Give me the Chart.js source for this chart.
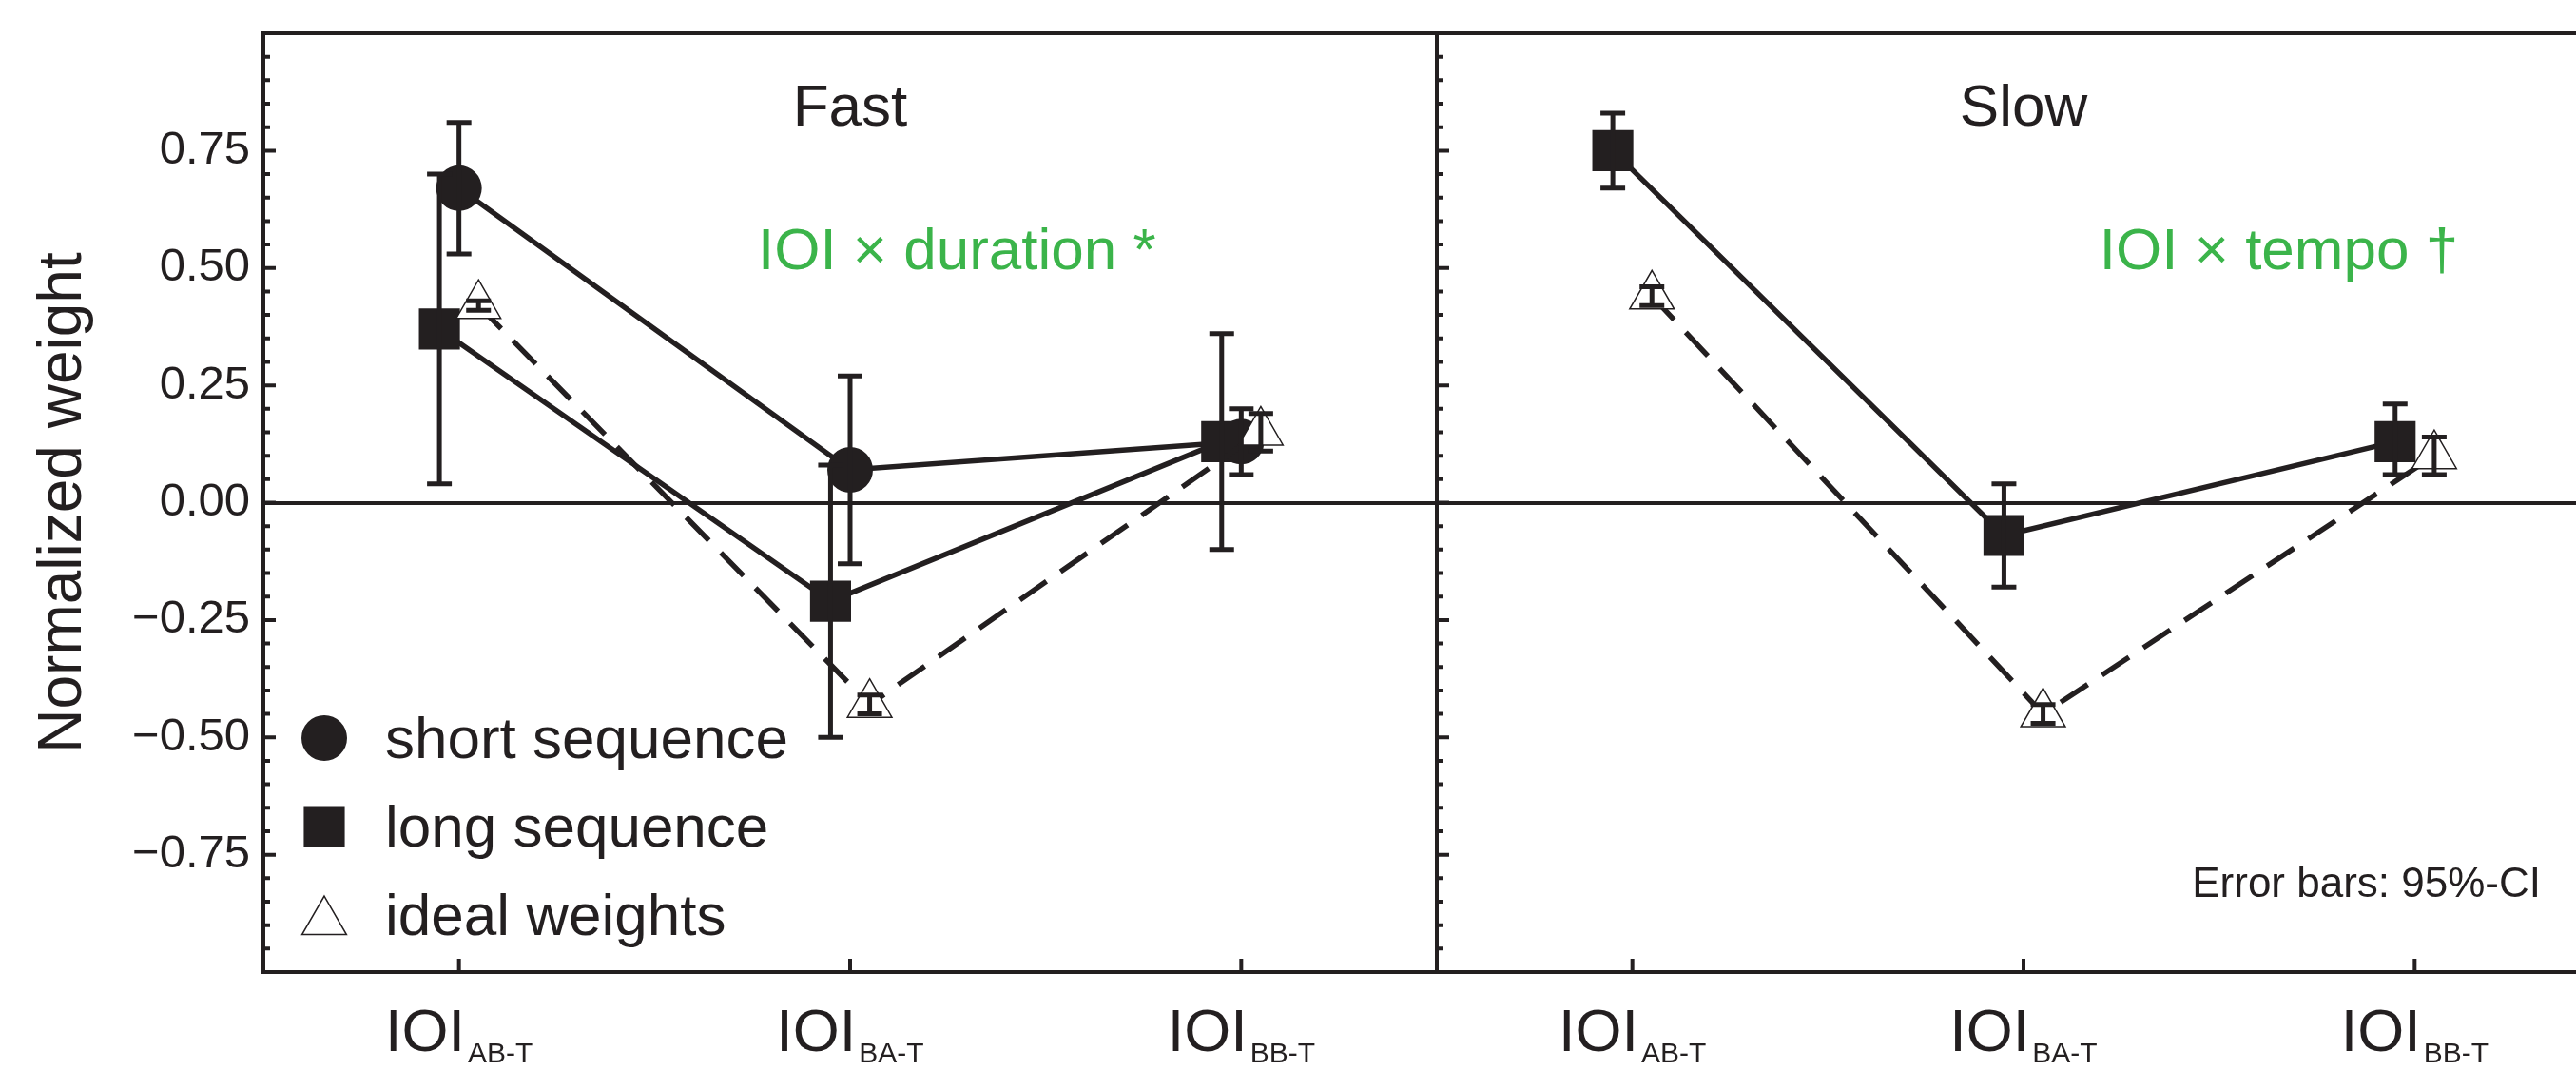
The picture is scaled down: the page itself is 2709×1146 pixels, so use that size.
<!DOCTYPE html>
<html>
<head>
<meta charset="utf-8">
<title>Normalized weights by IOI</title>
<script src="https://cdn.jsdelivr.net/npm/chart.js@4.4.1/dist/chart.umd.min.js"></script>
<style>
  html, body { margin: 0; padding: 0; background: #ffffff; overflow: hidden; }
  #panels { position: relative; width: 2709px; height: 1146px; overflow: hidden; }
  #panels canvas { position: absolute; top: 0; }
  #fastChart { left: 0; }
  #slowChart { left: 1500px; }
</style>
</head>
<body>
<div id="panels">
  <canvas id="fastChart" width="1530" height="1146"></canvas>
  <canvas id="slowChart" width="1260" height="1146"></canvas>
</div>
<script>
const BLACK = '#231f20';
const GREEN = '#3bb44a';
const FONT = '"Liberation Sans", Arial, Helvetica, sans-serif';

const categories = ['AB-T', 'BA-T', 'BB-T'];
const yTickValues = [-0.75, -0.5, -0.25, 0, 0.25, 0.5, 0.75];

// fast tempo: mean weights with lower / upper 95% CI
const fastShort     = [0.67, 0.07, 0.13];
const fastShortLow  = [0.53, -0.13, 0.06];
const fastShortHigh = [0.81, 0.27, 0.20];
const fastLong      = [0.37, -0.21, 0.13];
const fastLongLow   = [0.04, -0.50, -0.10];
const fastLongHigh  = [0.70, 0.08, 0.36];
const fastIdeal     = [0.42, -0.43, 0.15];
const fastIdealLow  = [0.41, -0.45, 0.11];
const fastIdealHigh = [0.43, -0.41, 0.19];

// slow tempo (long sequences only)
const slowLong      = [0.75, -0.07, 0.13];
const slowLongLow   = [0.67, -0.18, 0.06];
const slowLongHigh  = [0.83, 0.04, 0.21];
const slowIdeal     = [0.44, -0.45, 0.10];
const slowIdealLow  = [0.42, -0.47, 0.06];
const slowIdealHigh = [0.46, -0.43, 0.14];

Chart.defaults.font.family = FONT;
Chart.defaults.color = BLACK;

// marker look and sideways nudge for each series
const seriesStyle = {
  short: { label: 'short sequence', shift: 0,     pointStyle: 'circle',   radius: 24,   fill: BLACK,     outline: 0,   dash: [] },
  long:  { label: 'long sequence',  shift: -0.05, pointStyle: 'rect',     radius: 30.5, fill: BLACK,     outline: 0,   dash: [] },
  ideal: { label: 'ideal weights',  shift: 0.05,  pointStyle: 'triangle', radius: 27,   fill: '#ffffff', outline: 1.5, dash: [34, 18] }
};

function series(kind, values, low, high) {
  const s = seriesStyle[kind];
  return {
    label: s.label,
    data: values.map((v, i) => ({ x: i + s.shift, y: v, low: low[i], high: high[i] })),
    showLine: true,
    tension: 0,
    borderColor: BLACK,
    borderWidth: 5.5,
    borderDash: s.dash,
    pointStyle: s.pointStyle,
    pointRadius: s.radius,
    pointHoverRadius: s.radius,
    pointBackgroundColor: s.fill,
    pointBorderColor: BLACK,
    pointBorderWidth: s.outline
  };
}

function tickText(v) {
  if (v === 0) return '0.00';
  return (v < 0 ? '\u2212' : '') + Math.abs(v).toFixed(2);
}

// vertical CI whiskers with caps, drawn over the markers
const errorBars = {
  id: 'errorBars',
  afterDatasetsDraw(chart) {
    const { ctx, scales: { y } } = chart;
    ctx.save();
    ctx.strokeStyle = BLACK;
    ctx.lineWidth = 5;
    ctx.setLineDash([]);
    chart.data.datasets.forEach((ds, i) => {
      chart.getDatasetMeta(i).data.forEach((pt, j) => {
        const top = y.getPixelForValue(ds.data[j].high);
        const bottom = y.getPixelForValue(ds.data[j].low);
        ctx.beginPath();
        ctx.moveTo(pt.x, top);
        ctx.lineTo(pt.x, bottom);
        ctx.moveTo(pt.x - 13, top);
        ctx.lineTo(pt.x + 13, top);
        ctx.moveTo(pt.x - 13, bottom);
        ctx.lineTo(pt.x + 13, bottom);
        ctx.stroke();
      });
    });
    ctx.restore();
  }
};

// inward ticks on the left axis and bottom axis, plus IOI labels with subscripts
const axisMarks = {
  id: 'axisMarks',
  beforeDatasetsDraw(chart) {
    const { ctx, chartArea: area, scales: { x, y } } = chart;
    ctx.save();
    ctx.strokeStyle = BLACK;
    ctx.lineWidth = 4;
    ctx.beginPath();
    for (let k = -19; k <= 19; k++) {
      const py = y.getPixelForValue(k * 0.05);
      const len = k % 5 === 0 ? 13 : 7;
      ctx.moveTo(area.left, py);
      ctx.lineTo(area.left + len, py);
    }
    categories.forEach((c, i) => {
      const px = x.getPixelForValue(i);
      ctx.moveTo(px, area.bottom);
      ctx.lineTo(px, area.bottom - 14);
    });
    ctx.stroke();
    ctx.restore();
  },
  afterDraw(chart) {
    const { ctx, chartArea: area, scales: { x } } = chart;
    ctx.save();
    ctx.fillStyle = BLACK;
    ctx.textAlign = 'left';
    ctx.textBaseline = 'alphabetic';
    categories.forEach((c, i) => {
      ctx.font = '63px ' + FONT;
      const wMain = ctx.measureText('IOI').width;
      ctx.font = '30px ' + FONT;
      const wSub = ctx.measureText(c).width;
      const left = x.getPixelForValue(i) - (wMain + 3 + wSub) / 2;
      ctx.font = '63px ' + FONT;
      ctx.fillText('IOI', left, area.bottom + 83);
      ctx.font = '30px ' + FONT;
      ctx.fillText(c, left + wMain + 3, area.bottom + 95);
    });
    ctx.restore();
  }
};

// free text placed in data coordinates
const notes = {
  id: 'notes',
  afterDraw(chart, args, opts) {
    const { ctx, scales: { x, y } } = chart;
    ctx.save();
    ctx.textBaseline = 'alphabetic';
    (opts.items || []).forEach(n => {
      ctx.font = n.size + 'px ' + FONT;
      ctx.fillStyle = n.color || BLACK;
      ctx.textAlign = n.align || 'left';
      ctx.fillText(n.text, x.getPixelForValue(n.x), y.getPixelForValue(n.y));
    });
    ctx.restore();
  }
};

// key in the lower left corner of the fast panel
const seriesKey = {
  id: 'seriesKey',
  afterDraw(chart) {
    const { ctx, chartArea: area } = chart;
    const rows = chart.data.datasets.slice().reverse();
    ctx.save();
    ctx.setLineDash([]);
    rows.forEach((ds, r) => {
      const base = area.bottom - 225 + r * 93;
      const cy = ds.pointStyle === 'triangle' ? base - 14 : base - 21;
      ctx.fillStyle = ds.pointBackgroundColor;
      ctx.strokeStyle = ds.pointBorderColor;
      ctx.lineWidth = ds.pointBorderWidth;
      Chart.helpers.drawPoint(ctx, {
        pointStyle: ds.pointStyle,
        radius: ds.pointRadius,
        rotation: 0,
        borderWidth: ds.pointBorderWidth
      }, area.left + 64, cy);
      ctx.fillStyle = BLACK;
      ctx.font = '62px ' + FONT;
      ctx.textAlign = 'left';
      ctx.textBaseline = 'alphabetic';
      ctx.fillText(ds.label, area.left + 128, base);
    });
    ctx.restore();
  }
};

function makeChart(id, datasets, cfg, extraPlugins) {
  return new Chart(document.getElementById(id), {
    type: 'line',
    data: { datasets },
    options: {
      responsive: false,
      animation: false,
      devicePixelRatio: 1,
      events: [],
      layout: { autoPadding: false, padding: { left: 0, top: 35, right: cfg.padRight, bottom: 0 } },
      scales: {
        x: {
          type: 'linear',
          position: 'bottom',
          min: -0.5,
          max: 2.5,
          ticks: { display: false },
          grid: { display: false, drawTicks: false },
          border: { display: true, color: BLACK, width: 4 },
          afterFit: s => { s.height = 124; }
        },
        xTop: {
          type: 'linear',
          position: 'top',
          min: -0.5,
          max: 2.5,
          ticks: { display: false },
          grid: { display: false, drawTicks: false },
          border: { display: true, color: BLACK, width: 4 },
          afterFit: s => { s.height = 0; }
        },
        y: {
          type: 'linear',
          position: 'left',
          min: -1,
          max: 1,
          afterBuildTicks: s => { s.ticks = yTickValues.map(v => ({ value: v })); },
          ticks: {
            display: cfg.yLabels,
            padding: 14,
            color: BLACK,
            font: { size: 49 },
            callback: v => tickText(v)
          },
          grid: {
            drawTicks: false,
            lineWidth: 4,
            color: c => (c.tick && c.tick.value === 0 ? BLACK : 'rgba(0,0,0,0)')
          },
          border: { display: true, color: BLACK, width: 4 },
          title: {
            display: cfg.yLabels,
            text: 'Normalized weight',
            color: BLACK,
            font: { size: 64 },
            padding: { top: 29, bottom: 0 }
          },
          afterFit: s => {
            s.width = cfg.yWidth;
            // labels stop short of the frame, so no extra room above/below the plot
            s.paddingTop = 0;
            s.paddingBottom = 0;
          }
        }
      },
      plugins: {
        legend: { display: false },
        tooltip: { enabled: false },
        notes: { items: cfg.notes }
      }
    },
    plugins: [axisMarks, errorBars, notes].concat(extraPlugins || [])
  });
}

makeChart('fastChart', [
  series('ideal', fastIdeal, fastIdealLow, fastIdealHigh),
  series('long', fastLong, fastLongLow, fastLongHigh),
  series('short', fastShort, fastShortLow, fastShortHigh)
], {
  padRight: 19,
  yWidth: 277,
  yLabels: true,
  notes: [
    { text: 'Fast', x: 1, y: 0.803, size: 62, align: 'center' },
    { text: 'IOI \u00d7 duration *', x: 0.764, y: 0.497, size: 62, color: GREEN }
  ]
}, [seriesKey]);

makeChart('slowChart', [
  series('ideal', slowIdeal, slowIdealLow, slowIdealHigh),
  series('long', slowLong, slowLongLow, slowLongHigh)
], {
  padRight: 15,
  yWidth: 11,
  yLabels: false,
  notes: [
    { text: 'Slow', x: 1, y: 0.803, size: 62, align: 'center' },
    { text: 'IOI \u00d7 tempo \u2020', x: 1.194, y: 0.497, size: 62, color: GREEN },
    { text: 'Error bars: 95%-CI', x: 2.3225, y: -0.84, size: 44, align: 'right' }
  ]
});
</script>
</body>
</html>
